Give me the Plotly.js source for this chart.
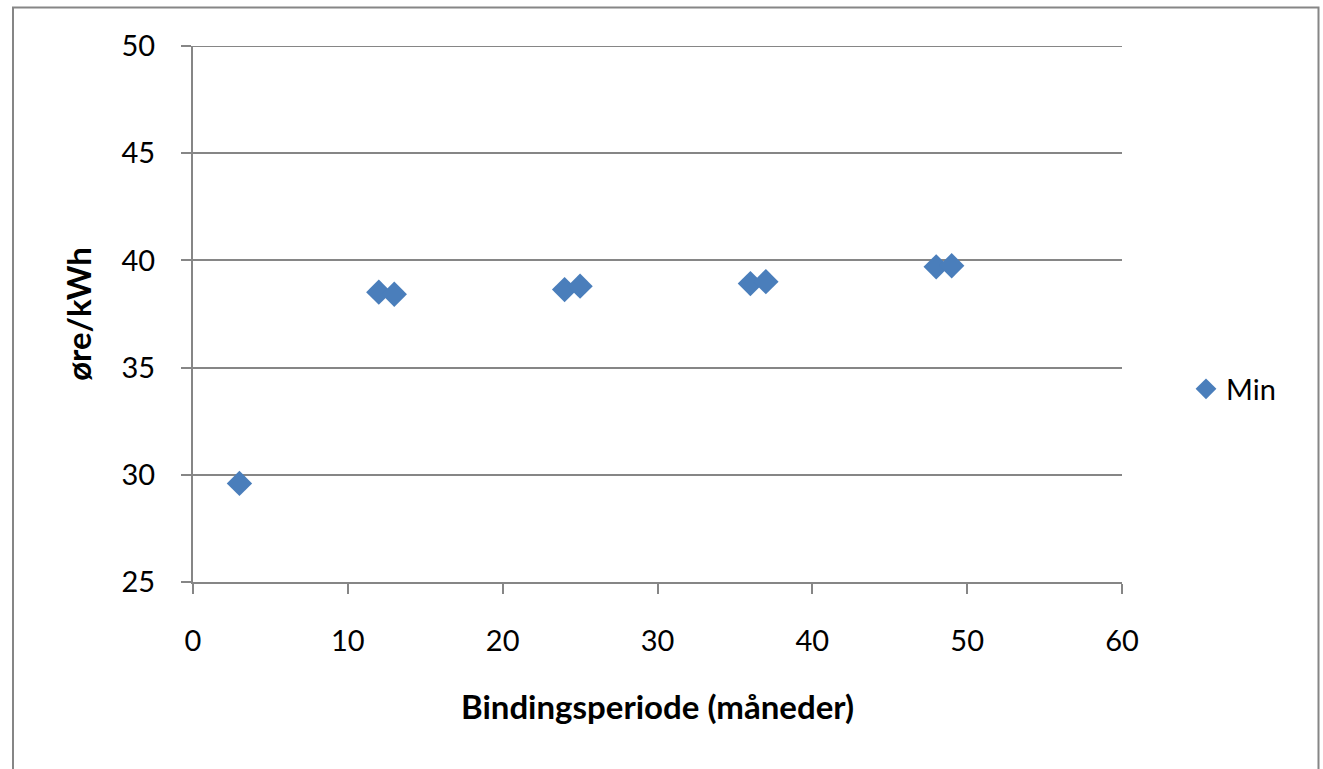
<!DOCTYPE html>
<html>
<head>
<meta charset="utf-8">
<script src="https://cdn.plot.ly/plotly-3.0.1.min.js"></script>
<style>
html,body{margin:0;padding:0;background:#fff;}
#chart{width:1323px;height:769px;}
</style>
</head>
<body>
<div id="chart"></div>
<script>
// Data
const seriesName = "Min";
const months = [3, 12, 13, 24, 25, 36, 37, 48, 49];
const price = [29.6, 38.52, 38.42, 38.64, 38.8, 38.92, 39.01, 39.7, 39.75];
const xTicks = [0, 10, 20, 30, 40, 50, 60];
const yTicks = [25, 30, 35, 40, 45, 50];
const xTitle = "Bindingsperiode (måneder)";
const yTitle = "øre/kWh";

const FONT = "Lato, 'Open Sans', sans-serif";
const GRAY = "#868686";
const BLUE = "#4a7ebb";

const trace = {
  x: months,
  y: price,
  name: seriesName,
  type: "scatter",
  mode: "markers",
  showlegend: true,
  marker: {symbol: "diamond", size: 19.5, color: BLUE, line: {width: 0}}
};

const W = 1323, H = 769;
const L = 193, R = 1122, T = 46, B = 582;

const layout = {
  width: W,
  height: H,
  margin: {l: L, r: W - R, t: T, b: H - B, pad: 0},
  paper_bgcolor: "#fff",
  plot_bgcolor: "#fff",
  font: {family: FONT, size: 29, color: "#000"},
  showlegend: true,
  legend: {
    x: (1186 - L) / (R - L), xanchor: "left",
    y: (B - 389) / (B - T), yanchor: "middle",
    font: {family: FONT, size: 29, color: "#000"},
    bgcolor: "rgba(0,0,0,0)"
  },
  xaxis: {
    range: [0, 60],
    tickvals: xTicks,
    ticktext: xTicks.map(String),
    showgrid: false,
    zeroline: false,
    showline: true, linecolor: GRAY, linewidth: 2,
    ticks: "outside", ticklen: 10, tickwidth: 2, tickcolor: GRAY,
    ticklabelstandoff: 22,
    tickfont: {family: FONT, size: 29, color: "#000"},
    title: {text: "<b>" + xTitle + "</b>", font: {family: FONT, size: 33, color: "#000"}, standoff: 40},
    fixedrange: true
  },
  yaxis: {
    range: [25, 50],
    tickvals: yTicks,
    ticktext: yTicks.map(String),
    showgrid: true, gridcolor: GRAY, gridwidth: 2,
    zeroline: false,
    showline: true, linecolor: GRAY, linewidth: 2,
    ticks: "outside", ticklen: 10, tickwidth: 2, tickcolor: GRAY,
    ticklabelstandoff: 20,
    tickfont: {family: FONT, size: 29, color: "#000"},
    title: {text: "<b>" + yTitle + "</b>", font: {family: FONT, size: 33, color: "#000"}, standoff: 20},
    fixedrange: true
  },
  shapes: [
    {
      // top gridline at the axis maximum (Plotly omits gridlines on the plot edge)
      type: "line", xref: "paper", yref: "y", layer: "below",
      x0: 0, x1: 1, y0: yTicks[yTicks.length - 1], y1: yTicks[yTicks.length - 1],
      line: {color: GRAY, width: 2}
    },
    {
      type: "rect", xref: "paper", yref: "paper", layer: "below",
      x0: (13 - L) / (R - L), x1: (1318.5 - L) / (R - L),
      y0: (B - 775) / (B - T), y1: (B - 7.5) / (B - T),
      line: {color: GRAY, width: 2}, fillcolor: "rgba(0,0,0,0)"
    }
  ]
};

Plotly.newPlot("chart", [trace], layout, {displayModeBar: false, staticPlot: true});
</script>
</body>
</html>
